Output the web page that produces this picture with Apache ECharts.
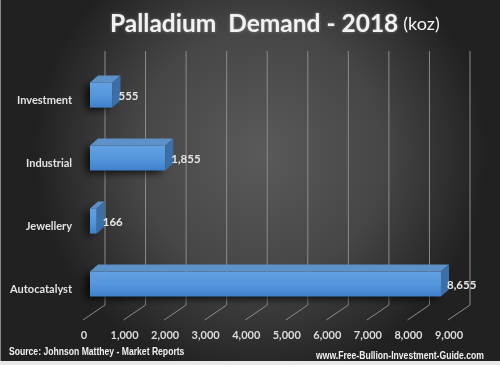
<!DOCTYPE html>
<html>
<head>
<meta charset="utf-8">
<script src="https://cdn.jsdelivr.net/npm/echarts@6/dist/echarts.min.js"></script>
<style>
html,body{margin:0;padding:0;background:#2a2a2a;}
#chart{width:500px;height:365px;}
</style>
</head>
<body>
<div id="chart"></div>
<script>
var categories = ['Investment', 'Industrial', 'Jewellery', 'Autocatalyst'];
var demandValues = [555, 1855, 166, 8655];
var tickValues = [0, 1000, 2000, 3000, 4000, 5000, 6000, 7000, 8000, 9000];
var titleMain = 'Palladium  Demand - 2018';
var titleUnit = '(koz)';
var sourceText = 'Source: Johnson Matthey - Market Reports';
var siteText = 'www.Free-Bullion-Investment-Guide.com';

function fmt(v){ return Number(v).toLocaleString('en-US'); }

var chart = echarts.init(document.getElementById('chart'), null, {renderer:'canvas'});

var BACK_DX = 15, FLOOR_DX = -7, DEPTH_DX = 8, DEPTH_DY = -7;

function renderGrid(params, api){
  var x = api.coord([api.value(0), 0])[0];
  return {
    type:'polyline',
    shape:{points:[[x+BACK_DX, 51],[x+BACK_DX, 305],[x+FLOOR_DX, 320]]},
    style:{stroke:'#8c8c8c', lineWidth:1, fill:null}
  };
}

function renderBar(params, api){
  var v = api.value(0), c = api.value(1);
  var p0 = api.coord([0, c]);
  var p1 = api.coord([v, c]);
  var h = api.size([0, 1])[1] * 0.4;
  var x0 = p0[0], x1 = p1[0], yT = p0[1] - h/2, yB = p0[1] + h/2;
  return {
    type:'group',
    children:[
      {type:'rect', shape:{x:x0, y:yT, width:x1-x0, height:h},
        style:{fill:new echarts.graphic.LinearGradient(0,0,0,1,[{offset:0,color:'#62a0e2'},{offset:0.5,color:'#5597dd'},{offset:1,color:'#3f80cc'}]),
        shadowBlur:8, shadowOffsetX:-4, shadowOffsetY:2, shadowColor:'rgba(0,0,0,0.85)'}},
      {type:'polygon', shape:{points:[[x0,yT],[x0+DEPTH_DX,yT+DEPTH_DY],[x1+DEPTH_DX,yT+DEPTH_DY],[x1,yT]]},
        style:{fill:'#5f91c9'}},
      {type:'polygon', shape:{points:[[x1,yT],[x1+DEPTH_DX,yT+DEPTH_DY],[x1+DEPTH_DX,yB+DEPTH_DY],[x1,yB]]},
        style:{fill:'#3c6ea8'}},
      {type:'text', x:x1+DEPTH_DX-2, y:p0[1]+1,
        style:{text:fmt(v), fill:'#e6e6e6', font:'bold 11.5px Lato, "Open Sans", sans-serif', textAlign:'left', textVerticalAlign:'middle'}}
    ]
  };
}

var option = {
  backgroundColor:{type:'radial', x:0.52, y:0.42, r:0.62,
    colorStops:[{offset:0,color:'#5a5a5a'},{offset:0.55,color:'#464646'},{offset:1,color:'#212121'}]},
  animation:false,
  title:{
    text:'{a|' + titleMain + '} {b|' + titleUnit + '}',
    left:105, top:7,
    textStyle:{rich:{
      a:{fontFamily:'Lato', fontWeight:'bold', fontSize:24.5, color:'#f2f2f2', textShadowColor:'rgba(255,255,255,0.35)', textShadowBlur:3},
      b:{fontFamily:'Lato', fontWeight:'normal', fontSize:18, color:'#f2f2f2'}
    }}
  },
  grid:{left:90, width:365, top:63.5, height:252, containLabel:false},
  xAxis:{type:'value', min:0, max:9000, interval:1000,
    axisLine:{show:false}, axisTick:{show:false}, splitLine:{show:false},
    axisLabel:{margin:14, padding:[0,12,0,0], color:'#dcdcdc', fontFamily:'Lato', fontWeight:'bold', fontSize:11, formatter:fmt}
  },
  yAxis:{type:'category', data:categories, inverse:true,
    axisLine:{show:false}, axisTick:{show:false}, splitLine:{show:false},
    axisLabel:{margin:18, verticalAlign:'top', color:'#e2e2e2', fontFamily:'Lato', fontWeight:'bold', fontSize:11}
  },
  series:[
    {type:'custom', renderItem:renderGrid, data:tickValues.map(function(t){return [t,0];}), encode:{x:0,y:1}, silent:true, z:1},
    {type:'custom', renderItem:renderBar, data:demandValues.map(function(v,i){return [v,i];}), encode:{x:0,y:1}, z:5}
  ],
  graphic:[
    {type:'rect', left:0, top:0, shape:{width:1, height:365}, style:{fill:'#8a8a8a'}},
    {type:'rect', left:0, top:361, shape:{width:500, height:4}, style:{fill:'#e8e8e8'}},
    {type:'text', x:9, y:352, scaleX:0.86, style:{text:sourceText, fill:'#f0f0f0', font:'bold 10px "Liberation Sans", Arial, sans-serif', textVerticalAlign:'middle'}},
    {type:'text', x:316, y:356, scaleX:0.86, style:{text:siteText, fill:'#f0f0f0', font:'bold 10px "Liberation Sans", Arial, sans-serif', textVerticalAlign:'middle'}}
  ]
};
chart.setOption(option);
</script>
</body>
</html>
